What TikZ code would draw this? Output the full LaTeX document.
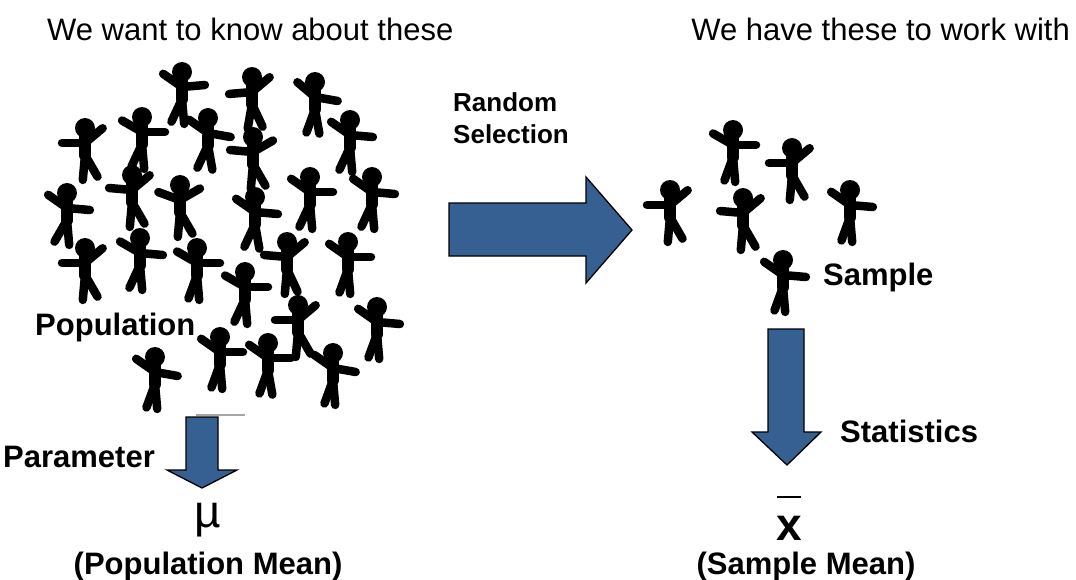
\documentclass[tikz,border=0pt]{standalone}
\usepackage{fontspec}
\setmainfont{Liberation Sans}
\definecolor{arrowblue}{RGB}{55,96,146}
% stick figure: head centre (x,y), left arm, right arm, left leg, right leg angles
\newcommand\stickman[6]{%
  \begin{scope}[shift={(#1,#2)}]
    \fill (0,0) circle (10);
    \draw[torso] (0,8) -- (0,27);
    \draw[limb] (0,15) -- ++(#3:23);
    \draw[limb] (0,15) -- ++(#4:23);
    \draw[limb] (0,27) -- ++(#5:25);
    \draw[limb] (0,27) -- ++(#6:25);
  \end{scope}}
\begin{document}
\begin{tikzpicture}[x=1pt,y=-1pt,
  limb/.style={line width=8.5pt, line cap=round},
  torso/.style={line width=12.5pt, line cap=round},
  blockarrow/.style={fill=arrowblue, draw=black, line width=1.3pt, line join=miter},
  plain/.style={font=\fontsize{31}{36}\selectfont, inner sep=0},
  tag/.style={font=\bfseries\fontsize{31}{36}\selectfont, inner sep=0, anchor=base west},
  smalltag/.style={font=\bfseries\fontsize{26}{33}\selectfont, inner sep=0, anchor=base west, align=left},
]
\useasboundingbox (0,0) rectangle (1076,579);

% headings
\node[plain, anchor=base west] (want) at (47,40) {We want to know about these};
\node[plain, anchor=base east] (have) at (1070,40) {We have these to work with};

% population
\foreach \px/\py/\la/\ra/\ll/\rl in {
  182/72/215/355/115/85, 252/77/175/320/100/65, 315/82/220/10/110/80,
  85/128/180/320/95/60, 142/117/210/0/115/85, 208/118/215/10/115/80,
  253/137/185/330/95/60, 350/120/215/5/115/85,
  67/193/215/5/120/85, 132/175/185/320/95/60, 180/185/200/330/95/60,
  255/197/215/5/115/80, 310/177/215/0/115/85, 372/177/215/5/115/85,
  85/248/180/320/95/60, 140/238/210/5/115/85, 197/248/210/0/110/85,
  245/272/210/0/115/85, 287/242/185/320/95/65, 348/242/215/0/110/85,
  298/305/180/320/95/60, 377/307/215/5/110/85,
  155/357/215/10/110/85, 220/337/215/0/110/85, 268/343/215/0/110/80,
  333/353/215/10/110/85}
  {\stickman{\px}{\py}{\la}{\ra}{\ll}{\rl}}

% sample
\foreach \px/\py/\la/\ra/\ll/\rl in {
  733/130/210/0/110/85, 792/148/180/320/95/60, 670/190/180/320/95/60,
  743/198/185/320/95/60, 850/190/215/5/110/85, 783/260/215/5/110/85}
  {\stickman{\px}{\py}{\la}{\ra}{\ll}{\rl}}

\node[tag] (pop) at (35,335) {Population};
\node[tag] (samp) at (823,285) {Sample};

% random selection arrow
\node[smalltag] (rs) at (453,143) {Random\\[-1pt]Selection};
\draw[blockarrow] (449,203) -- (586,203) -- (586,177) -- (632,230) -- (586,283) -- (586,256) -- (449,256) -- cycle;

% parameter arrow
\draw[gray!70, line width=2pt] (196,415) -- (245,415);
\draw[blockarrow] (186,417) -- (218,417) -- (218,470) -- (237,470) -- (202,488) -- (167,470) -- (186,470) -- cycle;
\node[tag] (par) at (3,467) {Parameter};

% statistics arrow
\draw[blockarrow] (768,329) -- (804,329) -- (804,432) -- (821,432) -- (787,465) -- (752,432) -- (768,432) -- cycle;
\node[tag] (stat) at (840,442) {Statistics};

% results
\node[font=\fontsize{46}{50}\selectfont, inner sep=0, anchor=base] (mu) at (208,527) {µ};
\node[font=\bfseries\fontsize{31}{36}\selectfont, inner sep=0, anchor=base] (pmean) at (208,574) {(Population Mean)};
\node[font=\bfseries\fontsize{46}{50}\selectfont, inner sep=0, anchor=base] (xb) at (789,540) {x};
\draw[line width=1.5pt] (777,497) -- (801,497);
\node[font=\bfseries\fontsize{31}{36}\selectfont, inner sep=0, anchor=base] (smean) at (806,574) {(Sample Mean)};
\end{tikzpicture}
\end{document}
